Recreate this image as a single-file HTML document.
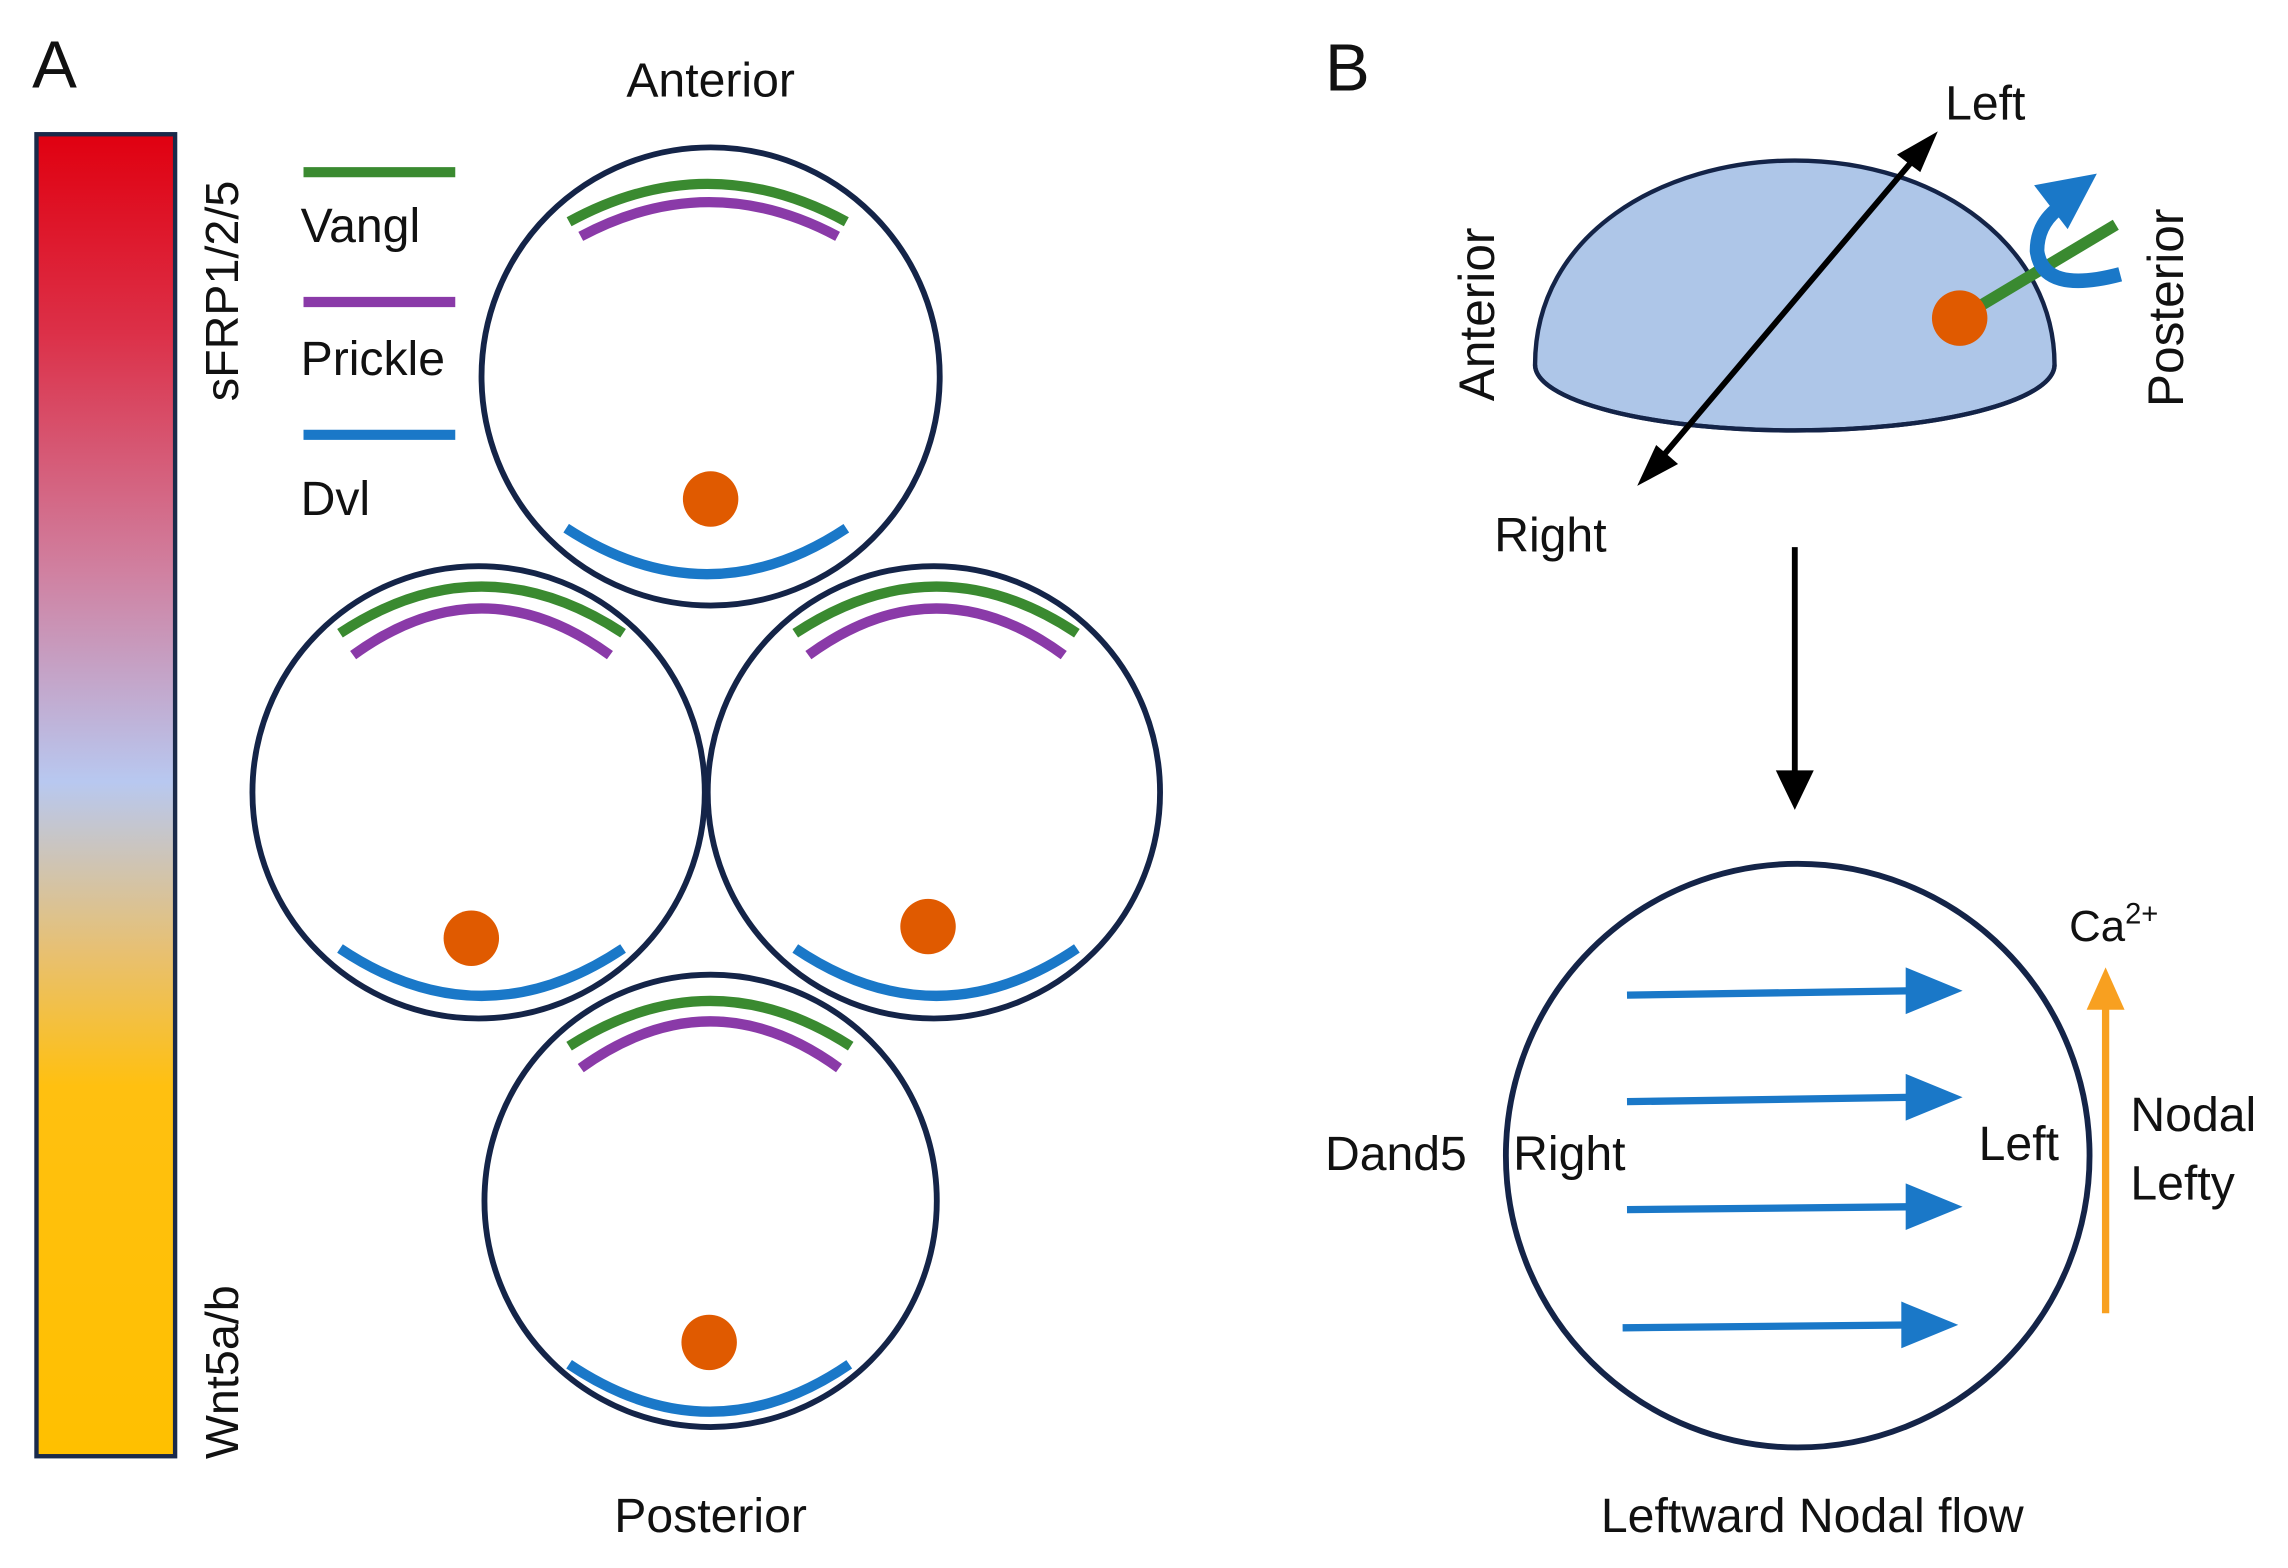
<!DOCTYPE html>
<html><head><meta charset="utf-8"><style>html,body{margin:0;padding:0;background:#fff}svg{display:block}text{font-family:"Liberation Sans",sans-serif;fill:#111}</style></head>
<body>
<svg width="2288" height="1568" viewBox="0 0 1568 1074.6" preserveAspectRatio="none" xmlns="http://www.w3.org/2000/svg">
<defs>
<linearGradient id="g" x1="0" y1="0" x2="0" y2="1">
<stop offset="0" stop-color="#e00010"/>
<stop offset="0.15" stop-color="#dc3048"/>
<stop offset="0.33" stop-color="#d080a0"/>
<stop offset="0.49" stop-color="#b8c8f0"/>
<stop offset="0.62" stop-color="#e8c070"/>
<stop offset="0.72" stop-color="#ffc010"/>
<stop offset="1" stop-color="#ffc000"/>
</linearGradient>
</defs>
<text x="22" y="60" font-size="46">A</text>
<rect x="25" y="92" width="95" height="906" fill="url(#g)" stroke="#1a2a4a" stroke-width="3"/>
<text transform="translate(163,275) rotate(-90)" font-size="32">sFRP1/2/5</text>
<text transform="translate(163,1000) rotate(-90)" font-size="32">Wnt5a/b</text>
<g stroke-width="7" fill="none">
<line x1="208" y1="118" x2="312" y2="118" stroke="#3a8a30"/>
<line x1="208" y1="207" x2="312" y2="207" stroke="#8a3aa8"/>
<line x1="208" y1="298" x2="312" y2="298" stroke="#1a78c8"/>
</g>
<text x="206" y="166" font-size="33">Vangl</text>
<text x="206" y="257" font-size="33">Prickle</text>
<text x="206" y="353" font-size="33">Dvl</text>
<text x="487" y="66" font-size="33" text-anchor="middle">Anterior</text>
<text x="487" y="1050" font-size="33" text-anchor="middle">Posterior</text>
<g fill="none" stroke="#142448" stroke-width="4">
<circle cx="487" cy="258" r="157"/>
<circle cx="328" cy="543" r="155"/>
<circle cx="640" cy="543" r="155"/>
<circle cx="487" cy="823" r="155"/>
</g>
<g fill="none" stroke-width="7">
<path d="M390,152 Q485,100 580,152" stroke="#3a8a30"/>
<path d="M398,162 Q486,115 574,162" stroke="#8a3aa8"/>
<path d="M388,362 Q485,425 580,362" stroke="#1a78c8"/>
<path d="M233,434 Q330,370 427,434" stroke="#3a8a30"/>
<path d="M242,449 Q330,385 418,449" stroke="#8a3aa8"/>
<path d="M233,650 Q330,715 427,650" stroke="#1a78c8"/>
<path d="M545,434 Q642,370 738,434" stroke="#3a8a30"/>
<path d="M554,449 Q642,385 729,449" stroke="#8a3aa8"/>
<path d="M545,650 Q642,715 738,650" stroke="#1a78c8"/>
<path d="M390,717 Q487,655 583,717" stroke="#3a8a30"/>
<path d="M398,732 Q487,668 575,732" stroke="#8a3aa8"/>
<path d="M390,935 Q487,1000 582,935" stroke="#1a78c8"/>
</g>
<g fill="#e05a00">
<circle cx="487" cy="342" r="19"/>
<circle cx="323" cy="643" r="19"/>
<circle cx="636" cy="635" r="19"/>
<circle cx="486" cy="920" r="19"/>
</g>
<text x="908" y="62" font-size="46">B</text>
<path d="M1052,250 C1052,160 1140,110 1230,110 C1330,110 1408,170 1408,250 A178,45 0 0 1 1052,250 Z" fill="#aec6e8" stroke="#142448" stroke-width="3"/>
<path d="M1052,250 A178,45 0 0 0 1408,250" fill="none" stroke="#142448" stroke-width="3"/>
<line x1="1135" y1="318" x2="1315" y2="105" stroke="#000" stroke-width="4"/>
<path d="M1122,333 L1150,318 L1135,305Z" fill="#000"/>
<path d="M1328,90 L1300,106 L1316,118Z" fill="#000"/>
<text x="1333" y="82" font-size="33">Left</text>
<text x="1024" y="378" font-size="33">Right</text>
<text transform="translate(1024,275) rotate(-90)" font-size="34">Anterior</text>
<text transform="translate(1496,279) rotate(-90)" font-size="34">Posterior</text>
<line x1="1343" y1="218" x2="1450" y2="154" stroke="#3a8a30" stroke-width="8"/>
<circle cx="1343" cy="218" r="19" fill="#e05a00"/>
<path d="M1453,188 Q1400,202 1396,172 Q1396,155 1409,144" fill="none" stroke="#1a78c8" stroke-width="10"/>
<path d="M1437,119 L1394,127 L1417,157Z" fill="#1a78c8"/>
<line x1="1230" y1="375" x2="1230" y2="530" stroke="#000" stroke-width="4"/>
<path d="M1217,528 L1243,528 L1230,555Z" fill="#000"/>
<circle cx="1232" cy="792" r="200" fill="none" stroke="#142448" stroke-width="4"/>
<g stroke="#1a78c8" stroke-width="5">
<line x1="1115" y1="682" x2="1312" y2="679"/>
<line x1="1115" y1="755" x2="1312" y2="752"/>
<line x1="1115" y1="829" x2="1312" y2="827"/>
<line x1="1112" y1="910" x2="1310" y2="908"/>
</g>
<g fill="#1a78c8">
<path d="M1306,663 L1345,679 L1306,695Z"/>
<path d="M1306,736 L1345,752 L1306,768Z"/>
<path d="M1306,811 L1345,827 L1306,843Z"/>
<path d="M1303,892 L1342,908 L1303,924Z"/>
</g>
<line x1="1443" y1="900" x2="1443" y2="690" stroke="#f8a020" stroke-width="5"/>
<path d="M1430,692 L1456,692 L1443,663Z" fill="#f8a020"/>
<text x="1418" y="645" font-size="30">Ca<tspan font-size="20" dy="-12">2+</tspan></text>
<text x="1460" y="775" font-size="33">Nodal</text>
<text x="1460" y="822" font-size="33">Lefty</text>
<text x="1356" y="795" font-size="33">Left</text>
<text x="908" y="802" font-size="33">Dand5</text>
<text x="1037" y="802" font-size="33">Right</text>
<text x="1242" y="1050" font-size="33" text-anchor="middle">Leftward Nodal flow</text>
</svg>
</body></html>
